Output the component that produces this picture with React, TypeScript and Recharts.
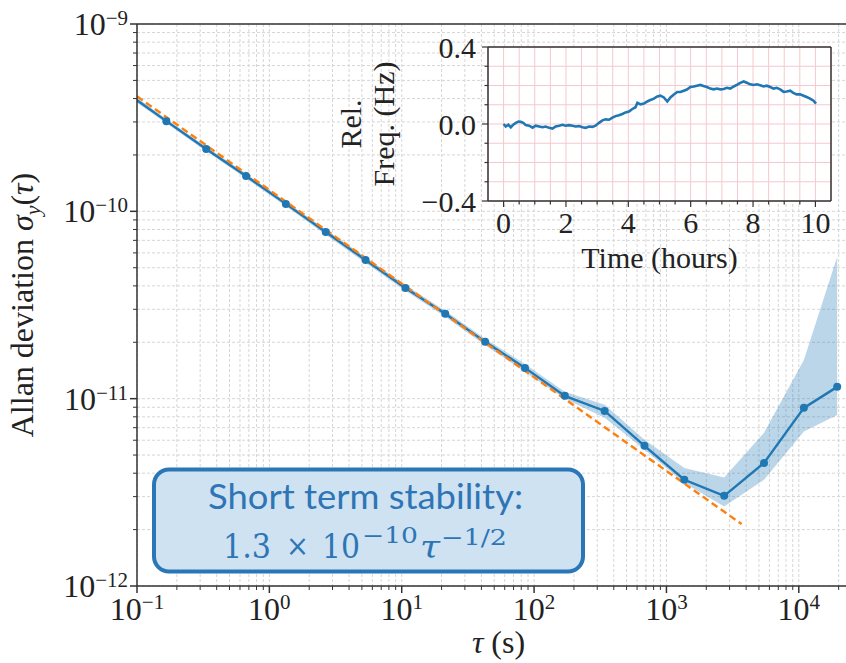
import React from "react";
import {
  Area,
  CartesianGrid,
  ComposedChart,
  Line,
  LineChart,
  XAxis,
  YAxis,
} from "recharts";

// Allan deviation (main plot), averaging time tau in seconds
const TAU = [
  0.0833, 0.1667, 0.3333, 0.6667, 1.333, 2.667, 5.333, 10.67, 21.33, 42.67,
  85.33, 170.7, 341.3, 682.7, 1365, 2731, 5461, 10923, 19500,
];
const ADEV = [
  4.3e-10, 3.03e-10, 2.15e-10, 1.545e-10, 1.096e-10, 7.76e-11, 5.5e-11,
  3.9e-11, 2.84e-11, 2.01e-11, 1.46e-11, 1.035e-11, 8.6e-12, 5.6e-12,
  3.69e-12, 3.03e-12, 4.54e-12, 8.93e-12, 1.156e-11,
];
const BAND_LO = [
  4.15e-10, 2.95e-10, 2.09e-10, 1.5e-10, 1.065e-10, 7.5e-11, 5.3e-11,
  3.77e-11, 2.74e-11, 1.93e-11, 1.39e-11, 9.98e-12, 7.9e-12, 5.33e-12,
  3.55e-12, 2.66e-12, 3.69e-12, 6.68e-12, 8.19e-12,
];
const BAND_HI = [
  4.45e-10, 3.11e-10, 2.21e-10, 1.59e-10, 1.13e-10, 8.0e-11, 5.7e-11,
  4.04e-11, 2.95e-11, 2.09e-11, 1.53e-11, 1.09e-11, 9.27e-12, 6.03e-12,
  4.27e-12, 3.79e-12, 6.57e-12, 1.61e-11, 5.73e-11,
];

// fit 1.3e-10 * tau^-1/2, end points
const FIT_TAU = [0.1, 3700];
const FIT_VAL = [4.11e-10, 2.14e-12];

const X_TICKS = [
  0.1, 0.2, 0.3, 0.4, 0.5, 0.6, 0.7, 0.8, 0.9, 1, 2, 3, 4, 5, 6, 7, 8, 9, 10,
  20, 30, 40, 50, 60, 70, 80, 90, 100, 200, 300, 400, 500, 600, 700, 800, 900,
  1000, 2000, 3000, 4000, 5000, 6000, 7000, 8000, 9000, 10000, 20000,
];
const Y_TICKS = [
  1e-12, 2e-12, 3e-12, 4e-12, 5e-12, 6e-12, 7e-12, 8e-12, 9e-12, 1e-11, 2e-11,
  3e-11, 4e-11, 5e-11, 6e-11, 7e-11, 8e-11, 9e-11, 1e-10, 2e-10, 3e-10, 4e-10,
  5e-10, 6e-10, 7e-10, 8e-10, 9e-10, 1e-9,
];

// inset: relative frequency over time
const HOURS = [
  0.0, 0.07, 0.15, 0.23, 0.32, 0.39, 0.48, 0.55, 0.63, 0.71, 0.82, 0.93, 1.03,
  1.14, 1.25, 1.35, 1.46, 1.57, 1.67, 1.78, 1.89, 1.99, 2.1, 2.21, 2.31, 2.42,
  2.53, 2.63, 2.74, 2.85, 2.95, 3.06, 3.17, 3.27, 3.38, 3.49, 3.59, 3.7, 3.81,
  3.91, 4.02, 4.13, 4.23, 4.29, 4.39, 4.5, 4.61, 4.71, 4.82, 4.93, 5.03, 5.14,
  5.25, 5.35, 5.46, 5.57, 5.67, 5.78, 5.88, 5.99, 6.1, 6.2, 6.31, 6.41, 6.52,
  6.63, 6.74, 6.84, 6.95, 7.06, 7.16, 7.27, 7.38, 7.48, 7.59, 7.7, 7.8, 7.91,
  8.02, 8.12, 8.23, 8.34, 8.44, 8.55, 8.66, 8.76, 8.87, 8.98, 9.08, 9.19, 9.29,
  9.4, 9.51, 9.62, 9.72, 9.83, 9.94, 10.02,
];
const REL_FREQ = [
  0.0, -0.013, -0.004, -0.017, -0.002, 0.006, 0.013, 0.011, 0.006, -0.006,
  -0.009, -0.019, -0.009, -0.013, -0.017, -0.013, -0.02, -0.024, -0.013,
  -0.009, -0.004, -0.009, -0.006, -0.009, -0.013, -0.011, -0.017, -0.02,
  -0.013, -0.015, -0.009, 0.006, 0.019, 0.024, 0.022, 0.033, 0.041, 0.046,
  0.052, 0.06, 0.065, 0.078, 0.087, 0.11, 0.102, 0.106, 0.117, 0.125, 0.132,
  0.143, 0.147, 0.138, 0.117, 0.138, 0.153, 0.166, 0.166, 0.173, 0.179, 0.192,
  0.195, 0.199, 0.203, 0.197, 0.192, 0.184, 0.18, 0.184, 0.18, 0.182, 0.188,
  0.184, 0.195, 0.203, 0.214, 0.221, 0.214, 0.206, 0.203, 0.206, 0.201, 0.195,
  0.199, 0.192, 0.184, 0.188, 0.18, 0.167, 0.169, 0.173, 0.162, 0.154, 0.154,
  0.147, 0.14, 0.132, 0.121, 0.106,
];
const INSET_X_TICKS = [
  0, 0.5, 1, 1.5, 2, 2.5, 3, 3.5, 4, 4.5, 5, 5.5, 6, 6.5, 7, 7.5, 8, 8.5, 9,
  9.5, 10,
];
const INSET_X_LABELS = [0, 2, 4, 6, 8, 10];
const INSET_Y_TICKS = [-0.4, -0.3, -0.2, -0.1, 0, 0.1, 0.2, 0.3, 0.4];
const INSET_Y_LABELS = [-0.4, 0, 0.4];

const SERIF = '"Liberation Serif", "Times New Roman", serif';
const BLUE = "#1f77b4";
const ORANGE = "#ff7f0e";
const AXIS = "#333";
const INK = "#222";
const NOTE = "#2e75b6";

const supText = (e: number) => (e < 0 ? `\u2212${Math.abs(e)}` : `${e}`);
const isDecade = (v: number) =>
  Math.abs(Math.log10(v) - Math.round(Math.log10(v))) < 1e-6;

function MainXTick({ x, y, payload }: any) {
  const v = payload.value;
  const major = isDecade(v);
  return (
    <g>
      <line x1={x} x2={x} y1={y} y2={y + (major ? 7 : 4)} stroke={AXIS} strokeWidth={major ? 1.5 : 1} />
      {major && (
        <text x={x} y={y + 34} textAnchor="middle" fontFamily={SERIF} fontSize={32} fill={INK}>
          10
          <tspan fontSize={21} dy={-11}>
            {supText(Math.round(Math.log10(v)))}
          </tspan>
        </text>
      )}
    </g>
  );
}

function MainYTick({ x, y, payload }: any) {
  const v = payload.value;
  const major = isDecade(v);
  return (
    <g>
      <line x1={x - (major ? 7 : 4)} x2={x} y1={y} y2={y} stroke={AXIS} strokeWidth={major ? 1.5 : 1} />
      {major && (
        <text x={x - 9} y={y + 11} textAnchor="end" fontFamily={SERIF} fontSize={32} fill={INK}>
          10
          <tspan fontSize={21} dy={-10}>
            {supText(Math.round(Math.log10(v)))}
          </tspan>
        </text>
      )}
    </g>
  );
}

function InsetXTick({ x, y, payload }: any) {
  const v = payload.value;
  const major = INSET_X_LABELS.includes(v);
  return (
    <g>
      <line x1={x} x2={x} y1={y} y2={y + (major ? 6 : 3.5)} stroke={AXIS} strokeWidth={1.2} />
      {major && (
        <text x={x} y={y + 32} textAnchor="middle" fontFamily={SERIF} fontSize={30} fill={INK}>
          {v}
        </text>
      )}
    </g>
  );
}

function InsetYTick({ x, y, payload }: any) {
  const v = payload.value;
  const major = INSET_Y_LABELS.some((l) => Math.abs(l - v) < 1e-9);
  const label = v < 0 ? `\u2212${Math.abs(v).toFixed(1)}` : v.toFixed(1);
  return (
    <g>
      <line x1={x - (major ? 6 : 3.5)} x2={x} y1={y} y2={y} stroke={AXIS} strokeWidth={1.2} />
      {major && (
        <text x={x - 12} y={y + 11} textAnchor="end" fontFamily={SERIF} fontSize={30} fill={INK}>
          {label}
        </text>
      )}
    </g>
  );
}

function AdevDot(props: any) {
  const { cx, cy, payload, index } = props;
  if (payload.adev == null || payload.tau < 0.1) return <g key={`d${index}`} />;
  return <circle key={`d${index}`} cx={cx} cy={cy} r={4} fill={BLUE} />;
}

export default function App() {
  const rows = [
    ...TAU.map((t, i) => ({ tau: t, adev: ADEV[i], band: [BAND_LO[i], BAND_HI[i]] })),
    ...FIT_TAU.map((t, i) => ({ tau: t, fit: FIT_VAL[i] })),
  ].sort((a, b) => a.tau - b.tau);

  const insetRows = HOURS.map((h, i) => ({ h, v: REL_FREQ[i] }));

  return (
    <div
      style={{
        position: "absolute",
        left: 0,
        top: 0,
        width: 846,
        height: 663,
        overflow: "hidden",
        background: "#fff",
      }}
    >
      <div style={{ position: "absolute", left: 0, top: 0 }}>
        <ComposedChart
          width={866}
          height={663}
          data={rows}
          margin={{ top: 23, right: 6, bottom: 76, left: 136 }}
        >
          <CartesianGrid stroke="#d6d6d6" strokeDasharray="3 2" strokeWidth={1} />
          <XAxis
            type="number"
            dataKey="tau"
            scale="log"
            domain={[0.1, 29000]}
            allowDataOverflow
            ticks={X_TICKS}
            interval={0}
            tick={<MainXTick />}
            tickSize={0}
            tickMargin={0}
            tickLine={false}
            height={1}
            axisLine={{ stroke: AXIS, strokeWidth: 1.5 }}
            label={{
              content: ({ viewBox }: any) => (
                <text
                  x={viewBox.x + viewBox.width / 2}
                  y={viewBox.y + 67}
                  textAnchor="middle"
                  fontFamily={SERIF}
                  fontSize={32}
                  fill={INK}
                >
                  <tspan fontStyle="italic">τ</tspan> (s)
                </text>
              ),
            }}
          />
          <XAxis
            xAxisId="top"
            orientation="top"
            type="number"
            scale="log"
            domain={[0.1, 29000]}
            tick={false}
            tickLine={false}
            height={1}
            axisLine={{ stroke: AXIS, strokeWidth: 1.5 }}
          />
          <YAxis
            type="number"
            scale="log"
            domain={[1e-12, 1e-9]}
            allowDataOverflow
            ticks={Y_TICKS}
            interval={0}
            tick={<MainYTick />}
            tickSize={0}
            tickMargin={0}
            tickLine={false}
            width={1}
            axisLine={{ stroke: AXIS, strokeWidth: 1.5 }}
            label={{
              content: ({ viewBox }: any) => {
                const cx = viewBox.x + viewBox.width - 104;
                const cy = viewBox.y + viewBox.height / 2;
                return (
                  <text
                    x={cx}
                    y={cy}
                    transform={`rotate(-90, ${cx}, ${cy})`}
                    textAnchor="middle"
                    fontFamily={SERIF}
                    fontSize={32}
                    fill={INK}
                  >
                    Allan deviation <tspan fontStyle="italic">σ</tspan>
                    <tspan fontStyle="italic" fontSize={22} dy={7}>
                      y
                    </tspan>
                    <tspan dy={-7}>(</tspan>
                    <tspan fontStyle="italic">τ</tspan>)
                  </text>
                );
              },
            }}
          />
          <Area
            dataKey="band"
            stroke="none"
            fill={BLUE}
            fillOpacity={0.3}
            connectNulls
            isAnimationActive={false}
          />
          <Line
            dataKey="adev"
            stroke={BLUE}
            strokeWidth={2.4}
            dot={<AdevDot />}
            activeDot={false}
            connectNulls
            isAnimationActive={false}
          />
          <Line
            dataKey="fit"
            stroke={ORANGE}
            strokeWidth={2.4}
            strokeDasharray="7 4"
            dot={false}
            activeDot={false}
            connectNulls
            isAnimationActive={false}
          />
        </ComposedChart>
      </div>

      <div style={{ position: "absolute", left: 300, top: 10 }}>
        <LineChart
          width={540}
          height={270}
          data={insetRows}
          margin={{ top: 36, right: 8, bottom: 78, left: 187 }}
        >
          <CartesianGrid stroke="#f5c8ce" fill="#fff" fillOpacity={1} strokeWidth={1} />
          <XAxis
            type="number"
            dataKey="h"
            domain={[-0.5, 10.5]}
            ticks={INSET_X_TICKS}
            interval={0}
            tick={<InsetXTick />}
            tickSize={0}
            tickMargin={0}
            tickLine={false}
            height={1}
            axisLine={{ stroke: AXIS, strokeWidth: 1.5 }}
            label={{
              content: ({ viewBox }: any) => (
                <text
                  x={viewBox.x + viewBox.width / 2}
                  y={viewBox.y + 67}
                  textAnchor="middle"
                  fontFamily={SERIF}
                  fontSize={30}
                  fill={INK}
                >
                  Time (hours)
                </text>
              ),
            }}
          />
          <XAxis
            xAxisId="top"
            orientation="top"
            type="number"
            domain={[-0.5, 10.5]}
            tick={false}
            tickLine={false}
            height={1}
            axisLine={{ stroke: AXIS, strokeWidth: 1.5 }}
          />
          <YAxis
            type="number"
            domain={[-0.4, 0.4]}
            ticks={INSET_Y_TICKS}
            interval={0}
            tick={<InsetYTick />}
            tickSize={0}
            tickMargin={0}
            tickLine={false}
            width={1}
            axisLine={{ stroke: AXIS, strokeWidth: 1.5 }}
            label={{
              content: ({ viewBox }: any) => {
                const right = viewBox.x + viewBox.width;
                const cy = viewBox.y + viewBox.height / 2;
                const x1 = right - 127;
                const x2 = right - 94;
                return (
                  <g fontFamily={SERIF} fontSize={30} fill={INK}>
                    <text x={x1} y={cy} transform={`rotate(-90, ${x1}, ${cy})`} textAnchor="middle">
                      Rel.
                    </text>
                    <text x={x2} y={cy} transform={`rotate(-90, ${x2}, ${cy})`} textAnchor="middle">
                      Freq. (Hz)
                    </text>
                  </g>
                );
              },
            }}
          />
          <YAxis
            yAxisId="right"
            orientation="right"
            type="number"
            domain={[-0.4, 0.4]}
            tick={false}
            tickLine={false}
            width={1}
            axisLine={{ stroke: AXIS, strokeWidth: 1.5 }}
          />
          <Line
            dataKey="v"
            stroke={BLUE}
            strokeWidth={2.6}
            dot={false}
            activeDot={false}
            isAnimationActive={false}
          />
        </LineChart>
      </div>

      <svg
        width={846}
        height={663}
        style={{ position: "absolute", left: 0, top: 0, pointerEvents: "none" }}
      >
        <rect x={154} y={469.5} width={429} height={102} rx={15} fill="#cfe2f1" stroke="#2a76b6" strokeWidth={4} />
        <text
          x={365.5}
          y={509}
          textAnchor="middle"
          fontFamily='Lato, "Open Sans", sans-serif'
          fontSize={34}
          fill={NOTE}
          textLength={315}
          lengthAdjust="spacingAndGlyphs"
        >
          Short term stability:
        </text>
        <g fontFamily='"DejaVu Serif", serif' fill={NOTE}>
          <text x={223} y={558} fontSize={34} textLength={48} lengthAdjust="spacingAndGlyphs">
            1.3
          </text>
          <text x={286} y={556} fontSize={30} textLength={23} lengthAdjust="spacingAndGlyphs">
            ×
          </text>
          <text x={322} y={558} fontSize={34} textLength={38} lengthAdjust="spacingAndGlyphs">
            10
          </text>
          <text x={362} y={543} fontSize={22} textLength={56} lengthAdjust="spacingAndGlyphs">
            −10
          </text>
          <text x={420} y={558} fontSize={32} fontStyle="italic" textLength={20} lengthAdjust="spacingAndGlyphs">
            τ
          </text>
          <text x={441} y={545} fontSize={22} textLength={66} lengthAdjust="spacingAndGlyphs">
            −1/2
          </text>
        </g>
      </svg>
    </div>
  );
}
